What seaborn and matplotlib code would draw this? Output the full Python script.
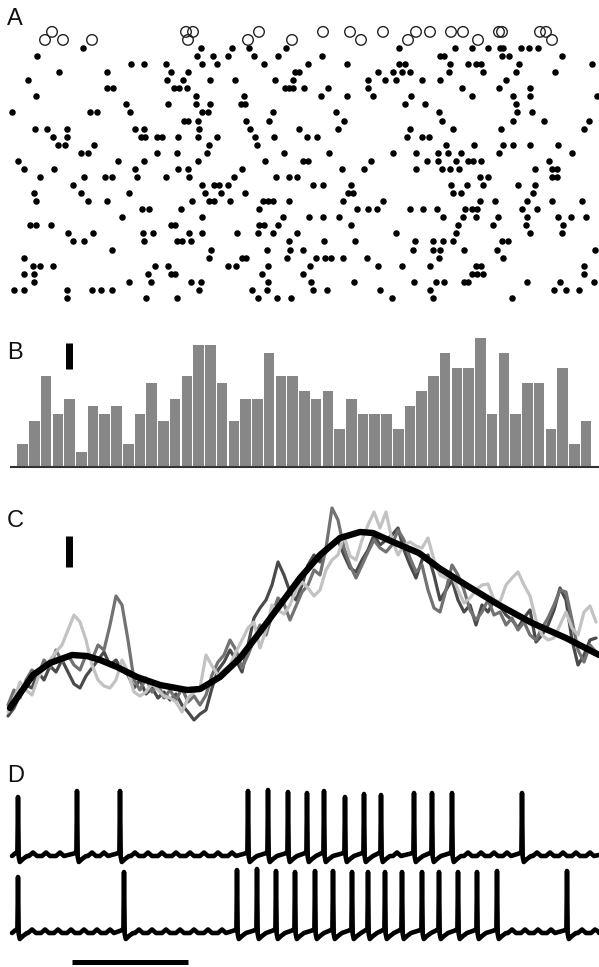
import numpy as np
import pandas as pd
import matplotlib
matplotlib.use("Agg")
import matplotlib.pyplot as plt
import seaborn as sns

sns.set_style("white")
plt.rcParams["font.family"] = ["Liberation Sans", "DejaVu Sans"]

W, H = 599, 967

# ---------------- data ----------------
# Panel A: input spike raster (spike times per trial, time in px-units)
raster_rows = [
    [83, 201, 232, 249, 286, 399, 455, 472, 488, 500, 503, 521, 529, 538],
    [37, 197, 213, 228, 254, 278, 322, 440, 444, 502, 509, 562],
    [131, 144, 166, 202, 217, 264, 308, 347, 399, 405, 450, 468, 476, 481, 519, 592],
    [59, 107, 171, 188, 295, 299, 378, 393, 402, 410, 449, 483, 516, 555],
    [28, 167, 183, 210, 235, 275, 293, 368, 385, 396, 422, 440, 506],
    [107, 113, 174, 179, 187, 285, 289, 293, 304, 328, 368, 462, 499, 530],
    [36, 196, 244, 321, 347, 373, 411, 472, 513, 530, 597],
    [126, 168, 196, 210, 241, 245, 405, 425, 516],
    [12, 90, 97, 130, 202, 208, 273, 336, 439, 517, 532],
    [184, 188, 198, 246, 269, 344, 442, 513, 544, 589],
    [35, 47, 67, 135, 144, 199, 250, 299, 338, 410, 453, 501, 584],
    [53, 67, 141, 145, 157, 162, 178, 198, 217, 255, 274, 307, 317, 407, 422, 429],
    [58, 65, 94, 209, 257, 446, 474, 503, 513, 530, 558],
    [81, 88, 157, 177, 207, 284, 329, 393, 416, 438, 448, 461, 499, 572],
    [18, 118, 144, 198, 265, 303, 308, 371, 427, 438, 456, 468, 473, 481, 549],
    [24, 54, 135, 178, 188, 242, 342, 364, 416, 442, 450, 459, 535, 552, 557],
    [40, 84, 105, 112, 137, 166, 189, 234, 276, 289, 297, 480, 488, 552, 557],
    [73, 202, 214, 219, 228, 313, 323, 351, 451, 467, 483, 518, 535],
    [34, 81, 129, 205, 221, 245, 348, 353, 453, 461, 533],
    [36, 88, 107, 192, 209, 214, 230, 263, 268, 273, 289, 343, 383, 480, 495, 527, 552, 582],
    [142, 149, 181, 259, 357, 368, 377, 410, 423, 437, 465, 472, 477, 522, 537],
    [122, 202, 283, 309, 323, 339, 443, 463, 476, 498, 527, 558, 571, 586],
    [30, 36, 51, 171, 175, 259, 264, 278, 351, 458, 493, 526, 563],
    [68, 93, 143, 153, 189, 202, 237, 258, 273, 297, 396, 456, 530, 562],
    [73, 84, 144, 177, 182, 191, 289, 324, 355, 415, 433, 443, 453, 502, 508],
    [112, 211, 267, 290, 303, 413, 433, 440, 464, 497, 595],
    [24, 209, 242, 246, 287, 316, 325, 331, 343, 367, 439, 503],
    [33, 40, 53, 155, 168, 228, 236, 268, 310, 378, 402, 430, 476, 481, 584],
    [24, 34, 148, 171, 175, 262, 303, 472, 477, 483, 584],
    [34, 129, 151, 191, 201, 268, 311, 354, 414, 436, 444, 464, 468, 527, 560, 594],
    [14, 24, 67, 92, 101, 112, 199, 252, 267, 313, 327, 380, 430, 554, 566, 579],
    [67, 146, 177, 258, 277, 291, 392, 433, 512],
]
# output spikes (open circles), drawn on two staggered levels
out_spikes_upper = [52, 186, 193, 259, 323, 350, 383, 416, 430, 451, 463, 499, 502, 540, 546]
out_spikes_lower = [45, 63, 92, 188, 248, 292, 361, 408, 478, 552]

# Panel B: PSTH counts per bin
psth_counts = [3, 6, 12, 7, 9, 2, 8, 7, 8, 3, 7, 11, 6, 9, 12, 16, 16, 11, 6, 9, 9, 15, 12, 12,
               10, 9, 10, 5, 9, 7, 7, 7, 5, 8, 10, 12, 15, 13, 13, 17, 7, 15, 7, 11, 11, 5, 13, 3, 6]

# Panel C: membrane potential traces (vertical values in px-units, larger = lower)
trace_t = np.arange(8, 600, 6)
trace_light = [712, 700, 682, 690, 695, 678, 668, 660, 652, 645, 630, 615, 622, 640, 665, 680,
               686, 688, 680, 660, 672, 692, 696, 692, 683, 690, 696, 698, 702, 712, 698, 692,
               688, 655, 666, 675, 670, 665, 652, 640, 628, 622, 648, 630, 605, 610, 614, 605,
               590, 582, 588, 596, 590, 570, 560, 555, 535, 556, 560, 540, 525, 512, 528, 512,
               540, 555, 545, 542, 546, 548, 538, 560, 575, 578, 575, 590, 603, 598, 590, 585,
               584, 600, 602, 585, 578, 572, 585, 596, 620, 635, 640, 638, 625, 612, 628, 635,
               612, 606, 622]
trace_mid = [705, 690, 698, 680, 670, 676, 660, 668, 650, 662, 655, 665, 670, 655, 660, 645,
             650, 625, 596, 605, 640, 680, 690, 678, 692, 684, 698, 690, 700, 688, 702, 696,
             705, 695, 675, 662, 655, 640, 650, 668, 655, 640, 625, 635, 615, 598, 604, 620,
             606, 592, 585, 570, 575, 548, 508, 520, 548, 565, 578, 565, 552, 540, 548, 552,
             545, 530, 540, 558, 572, 565, 590, 608, 612, 590, 565, 575, 590, 610, 620, 612,
             600, 615, 612, 625, 618, 630, 622, 635, 640, 628, 618, 605, 590, 592, 620, 650,
             662, 645, 652]
trace_dark = [716, 708, 695, 685, 688, 672, 680, 666, 672, 660, 672, 684, 688, 676, 668, 660,
              652, 665, 660, 670, 675, 688, 680, 694, 688, 698, 692, 700, 694, 705, 712, 720,
              714, 710, 688, 670, 662, 650, 660, 672, 645, 618, 608, 600, 585, 562, 575, 592,
              600, 585, 565, 555, 562, 552, 545, 540, 555, 568, 572, 560, 550, 535, 545, 540,
              535, 528, 550, 565, 578, 560, 555, 575, 600, 590, 580, 600, 612, 605, 625, 605,
              612, 600, 606, 615, 620, 628, 618, 610, 642, 635, 625, 610, 588, 600, 640, 665,
              655, 640, 638]
rate_t = [10, 33, 50, 72, 87, 100, 117, 137, 160, 187, 200, 220, 240, 260, 280, 300, 320, 340,
          360, 373, 393, 419, 439, 466, 499, 532, 566, 599]
rate_y = [708, 675, 663, 655, 656, 660, 667, 677, 685, 690, 689, 677, 658, 632, 605, 578, 555,
          538, 532, 533, 542, 553, 568, 585, 605, 623, 638, 655]

# Panel D: spike times, spike peak levels and baseline ripples of two recordings
spikes_top = [18, 77, 120, 248, 268, 288, 307, 324, 345, 364, 381, 414, 432, 452, 522]
peaks_top = [795, 789, 789, 789, 788, 790, 791, 789, 795, 792, 793, 791, 791, 791, 791]
ripples_top = [33, 46, 60, 92, 104, 135, 148, 162, 176, 190, 204, 218, 232, 397,
               468, 481, 494, 507, 537, 550, 563, 576, 590]
spikes_bot = [18, 124, 237, 257, 276, 295, 315, 333, 352, 368, 385, 402, 422, 439, 458, 477, 497, 567]
peaks_bot = [875, 870, 868, 867, 869, 870, 869, 869, 870, 870, 870, 870, 870, 870, 870, 870, 869, 869]
ripples_bot = [32, 45, 58, 71, 84, 97, 110, 139, 152, 166, 180, 194, 208, 222,
               512, 525, 538, 551, 582, 595]

# ---------------- figure ----------------
fig = plt.figure(figsize=(W / 100, H / 100), dpi=100)


def panel(top, bottom):
    ax = fig.add_axes([0, 1 - bottom / H, 1, (bottom - top) / H])
    ax.set_axis_off()
    return ax


# ---- A: raster ----
axA = panel(0, 310)
rast = pd.DataFrame({
    "t": [t for row in raster_rows for t in row],
    "trial": [k for k, row in enumerate(raster_rows) for _ in row],
})
sns.scatterplot(data=rast, x="t", y="trial", ax=axA, color="black", s=22,
                linewidth=0, marker="o", legend=False)
outs = pd.DataFrame({
    "t": out_spikes_upper + out_spikes_lower,
    "trial": [-2] * len(out_spikes_upper) + [-1] * len(out_spikes_lower),
})
sns.scatterplot(data=outs, x="t", y="trial", ax=axA, marker="o", s=58,
                facecolor="none", edgecolor="#222222", linewidth=1.0, legend=False)
axA.set_xlim(0, W)
axA.set_ylim((310 - 48) / 8.06, -48 / 8.06)
axA.set_axis_off()

# ---- B: PSTH ----
axB = panel(330, 480)
psth = pd.DataFrame({"bin": np.arange(len(psth_counts)), "count": psth_counts})
sns.barplot(data=psth, x="bin", y="count", ax=axB, color="#878787", saturation=1,
            width=0.9, linewidth=0, errorbar=None)
bw = 11.74
x0b = 16.7
axB.set_xlim(-x0b / bw - 0.5, (W - x0b) / bw - 0.5)
axB.set_ylim((467 - 480) / 7.6, (467 - 330) / 7.6)
axB.plot([(10 - x0b) / bw - 0.5, (W - x0b) / bw - 0.5], [0, 0], color="#333333", lw=1.5,
         solid_capstyle="butt")
axB.plot([(68.5 - x0b) / bw - 0.5] * 2, [(467 - 343) / 7.6, (467 - 369) / 7.6],
         color="black", lw=5, solid_capstyle="butt")
axB.set_axis_off()

# ---- C: membrane potential ----
axC = panel(495, 735)
for vals, col in [(trace_dark, "#4a4a4a"), (trace_mid, "#727272"), (trace_light, "#c2c2c2")]:
    sns.lineplot(x=trace_t, y=vals, ax=axC, color=col, lw=2.3, sort=False, estimator=None)
sns.lineplot(x=rate_t, y=rate_y, ax=axC, color="black", lw=4.6, sort=False, estimator=None)
axC.plot([68.5, 68.5], [536, 567], color="black", lw=5, solid_capstyle="butt")
axC.set_xlim(0, W)
axC.set_ylim(735, 495)
axC.set_axis_off()

# ---- D: spiking recordings ----
axD = panel(760, 967)


def build_trace(spikes, peaks, ripples, yb):
    pts = [(12, yb + 1)]
    for t, p in zip(spikes, peaks):
        pts += [(t - 3, yb - 1.5), (t - 0.6, yb - 3), (t, p + 2), (t + 0.7, yb + 2),
                (t + 1.8, yb + 7), (t + 5, yb + 4), (t + 9, yb + 1)]
    for b in ripples:
        pts += [(b - 4, yb + 1), (b, yb - 2.5), (b + 4, yb + 1)]
    pts.append((W, yb))
    pts.sort()
    return pd.DataFrame(pts, columns=["x", "y"])


for sp, pk, rp, yb in [(spikes_top, peaks_top, ripples_top, 855),
                       (spikes_bot, peaks_bot, ripples_bot, 932)]:
    tr = build_trace(sp, pk, rp, yb)
    sns.lineplot(data=tr, x="x", y="y", ax=axD, color="black", lw=3.3, sort=False,
                 estimator=None)
axD.plot([72, 188], [962, 962], color="black", lw=3.6, solid_capstyle="butt")
axD.set_xlim(0, W)
axD.set_ylim(967, 760)
axD.set_axis_off()

# ---- panel letters ----
for lab, top in [("A", 8), ("B", 342), ("C", 510), ("D", 765)]:
    fig.text(7 / W, 1 - top / H, lab, fontsize=17, va="top", ha="left", color="#111111")

fig.savefig("out.png", dpi=100)
